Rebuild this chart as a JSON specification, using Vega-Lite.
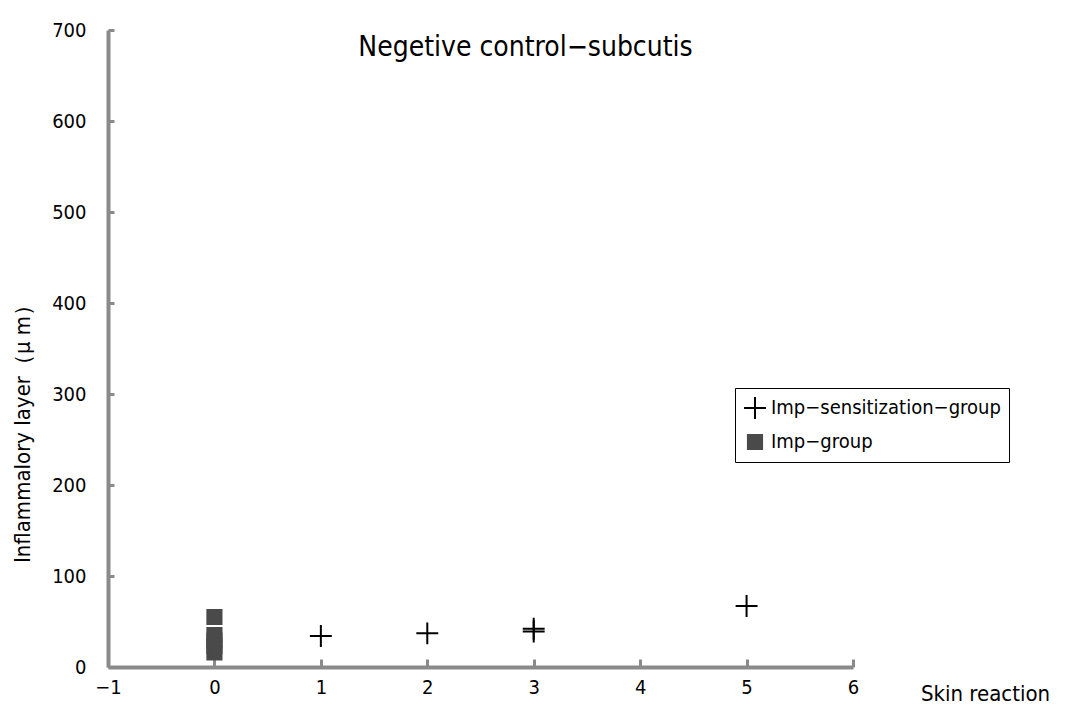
{
  "$schema": "https://vega.github.io/schema/vega-lite/v6.json",
  "width": 745,
  "height": 637,
  "autosize": {"type": "none"},
  "padding": {"left": 108, "top": 30, "right": 235, "bottom": 49},
  "background": "white",
  "title": {
    "text": "Negetive control\u2212subcutis",
    "font": "DejaVu Sans Condensed, sans-serif",
    "fontSize": 28,
    "fontWeight": "normal",
    "color": "black",
    "anchor": "middle",
    "dx": 45,
    "dy": 46,
    "baseline": "top"
  },
  "data": {
    "values": [
      {"reaction": 1, "layer": 34, "group": "Imp\u2212sensitization\u2212group"},
      {"reaction": 2, "layer": 37, "group": "Imp\u2212sensitization\u2212group"},
      {"reaction": 3, "layer": 42, "group": "Imp\u2212sensitization\u2212group"},
      {"reaction": 3, "layer": 39, "group": "Imp\u2212sensitization\u2212group"},
      {"reaction": 5, "layer": 67, "group": "Imp\u2212sensitization\u2212group"},
      {"reaction": 0, "layer": 55, "group": "Imp\u2212group"},
      {"reaction": 0, "layer": 35, "group": "Imp\u2212group"},
      {"reaction": 0, "layer": 29, "group": "Imp\u2212group"},
      {"reaction": 0, "layer": 23, "group": "Imp\u2212group"},
      {"reaction": 0, "layer": 16, "group": "Imp\u2212group"}
    ]
  },
  "mark": {"type": "point", "filled": true, "strokeWidth": 2, "opacity": 1, "strokeOpacity": 1, "fillOpacity": 1},
  "encoding": {
    "x": {
      "field": "reaction",
      "type": "quantitative",
      "scale": {"domain": [-1, 6], "nice": false, "zero": false},
      "axis": {
        "values": [-1, 0, 1, 2, 3, 4, 5, 6],
        "grid": false,
        "title": "Skin reaction",
        "titleFont": "DejaVu Sans Condensed, sans-serif",
        "titleFontSize": 22,
        "titleFontWeight": "normal",
        "titleColor": "black",
        "titleX": 877,
        "titleY": 38,
        "titleAlign": "center",
        "titleBaseline": "bottom",
        "labelFont": "DejaVu Sans Condensed, sans-serif",
        "labelFontSize": 20,
        "labelColor": "black",
        "labelPadding": 18,
        "labelFlush": false,
        "labelExpr": "replace(datum.label, '-', '\u2212')",
        "domainColor": "#8a8a8a",
        "domainWidth": 4,
        "tickColor": "#8a8a8a",
        "tickWidth": 3,
        "tickSize": -8
      }
    },
    "y": {
      "field": "layer",
      "type": "quantitative",
      "scale": {"domain": [0, 700], "nice": false},
      "axis": {
        "values": [0, 100, 200, 300, 400, 500, 600, 700],
        "grid": false,
        "title": "Inflammalory layer\uff08\u03bc m\uff09",
        "titleFont": "DejaVu Sans Condensed, sans-serif",
        "titleFontSize": 22,
        "titleFontWeight": "normal",
        "titleColor": "black",
        "titleX": -86,
        "titleY": 398,
        "titleAngle": -90,
        "titleAlign": "center",
        "titleBaseline": "middle",
        "labelFont": "DejaVu Sans Condensed, sans-serif",
        "labelFontSize": 20,
        "labelColor": "black",
        "labelPadding": 28,
        "labelFlush": false,
        "domainColor": "#8a8a8a",
        "domainWidth": 4,
        "tickColor": "#8a8a8a",
        "tickWidth": 3,
        "tickSize": -6
      }
    },
    "shape": {
      "field": "group",
      "type": "nominal",
      "scale": {
        "domain": ["Imp\u2212sensitization\u2212group", "Imp\u2212group"],
        "range": ["M-1,0H1M0,-1V1", "square"]
      },
      "legend": {"title": null}
    },
    "size": {
      "field": "group",
      "type": "nominal",
      "scale": {
        "domain": ["Imp\u2212sensitization\u2212group", "Imp\u2212group"],
        "range": [480, 200]
      },
      "legend": null
    },
    "color": {
      "field": "group",
      "type": "nominal",
      "scale": {
        "domain": ["Imp\u2212sensitization\u2212group", "Imp\u2212group"],
        "range": ["black", "#4a4a4a"]
      },
      "legend": {"title": null}
    },
    "stroke": {
      "field": "group",
      "type": "nominal",
      "scale": {
        "domain": ["Imp\u2212sensitization\u2212group", "Imp\u2212group"],
        "range": ["black", "#4a4a4a"]
      },
      "legend": {"title": null}
    }
  },
  "config": {
    "view": {"stroke": null},
    "legend": {
      "orient": "none",
      "legendX": 627,
      "legendY": 358,
      "strokeColor": "black",
      "fillColor": "white",
      "padding": 8,
      "labelFont": "DejaVu Sans Condensed, sans-serif",
      "labelFontSize": 20,
      "labelColor": "black",
      "labelLimit": 400,
      "rowPadding": 7,
      "symbolStrokeWidth": 2
    }
  }
}
